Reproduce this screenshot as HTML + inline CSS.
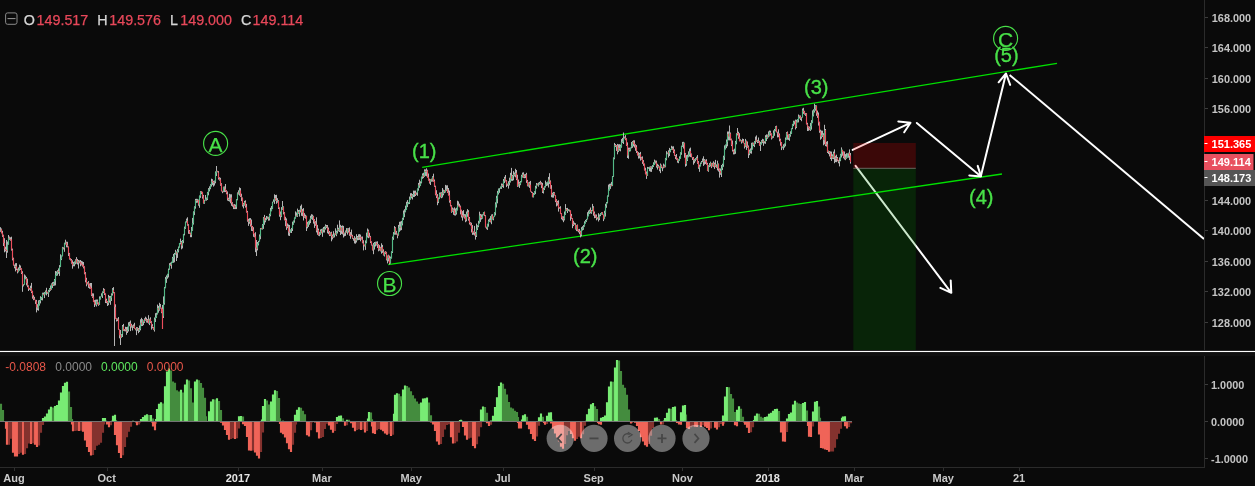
<!DOCTYPE html>
<html><head><meta charset="utf-8"><title>Chart</title>
<style>html,body{margin:0;padding:0;background:#0a0a0a;overflow:hidden}svg{display:block;will-change:transform}</style>
</head><body><svg width="1255" height="486" viewBox="0 0 1255 486" font-family="'Liberation Sans', Arial, sans-serif"><rect width="1255" height="486" fill="#0a0a0a"/><path d="M855.6 165.9L951.3 292.8M950.7 280.4L951.3 292.8L940.4 287.8" stroke="#fff" stroke-width="2" fill="none" stroke-linecap="round" stroke-linejoin="round"/><path d="M852.6 149.9L910.5 122.8M898.3 121.4L910.5 122.8L904.2 132.3" stroke="#fff" stroke-width="2" fill="none" stroke-linecap="round" stroke-linejoin="round"/><rect x="853.3" y="143" width="62.5" height="25.3" fill="rgba(255,0,0,0.2)"/><rect x="853.3" y="168.3" width="62.5" height="182" fill="rgba(0,140,0,0.2)"/><path d="M853.3 168.3H915.8" stroke="rgba(170,170,170,0.55)" stroke-width="1"/><path d="M422.2 167.3L1057 63.3" stroke="#00e000" stroke-width="1.3" fill="none"/><path d="M388.2 264.6L1002 174" stroke="#00e000" stroke-width="1.3" fill="none"/><path d="M0.5 227.2V231.8M1.5 228.5V233.3M2.5 230.8V236.9M3.5 234.7V246.0M4.5 238.2V252.3M5.5 246.7V251.4M6.5 249.7V252.0M7.5 241.5V252.7M8.5 235.0V244.6M9.5 236.6V239.8M10.5 237.3V240.7M11.5 236.7V250.6M12.5 248.6V260.4M13.5 257.7V265.5M14.5 264.6V268.3M15.5 263.2V271.4M16.5 263.1V270.1M17.5 268.7V273.4M18.5 267.4V272.3M19.5 264.6V270.7M20.5 265.5V269.9M21.5 268.3V274.0M22.5 271.2V291.8M23.5 284.1V286.4M24.5 274.4V284.7M25.5 275.5V279.3M26.5 276.9V285.4M27.5 278.7V287.2M28.5 285.4V291.0M29.5 287.9V289.8M30.5 285.7V290.8M31.5 282.9V293.1M32.5 290.8V298.7M33.5 295.2V300.2M34.5 296.8V299.8M35.5 299.8V303.9M36.5 299.9V312.4M37.5 304.2V310.2M38.5 300.3V310.7M39.5 300.1V305.6M40.5 296.2V303.4M41.5 297.0V300.1M42.5 292.7V300.4M43.5 292.6V295.2M44.5 292.1V298.1M45.5 290.5V294.4M46.5 287.8V295.4M47.5 291.8V293.8M48.5 289.9V297.0M49.5 288.0V292.2M50.5 285.5V290.8M51.5 283.4V289.6M52.5 282.2V288.0M53.5 281.8V286.0M54.5 279.0V285.7M55.5 271.0V285.4M56.5 271.4V275.9M57.5 270.2V275.6M58.5 268.4V273.8M59.5 265.1V275.9M60.5 254.3V267.1M61.5 255.5V260.1M62.5 246.9V256.4M63.5 247.3V249.4M64.5 242.7V251.8M65.5 239.7V244.5M66.5 241.7V247.3M67.5 241.8V247.4M68.5 246.5V256.0M69.5 252.9V259.6M70.5 258.2V260.5M71.5 259.0V263.7M72.5 260.3V268.7M73.5 261.9V266.3M74.5 261.4V266.3M75.5 259.3V264.3M76.5 257.1V263.6M77.5 258.9V264.5M78.5 260.0V268.5M79.5 260.4V263.3M80.5 260.0V266.3M81.5 260.9V265.3M82.5 261.4V266.6M83.5 262.0V268.4M84.5 266.3V274.3M85.5 272.1V282.3M86.5 277.8V286.3M87.5 282.2V284.4M88.5 281.1V287.9M89.5 283.5V288.7M90.5 283.0V288.7M91.5 283.0V296.1M92.5 293.3V297.9M93.5 293.4V302.1M94.5 300.1V307.0M95.5 299.7V305.3M96.5 299.5V306.5M97.5 299.5V304.4M98.5 302.5V305.8M99.5 296.4V304.9M100.5 296.5V299.6M101.5 293.3V296.4M102.5 291.4V298.0M103.5 288.1V293.1M104.5 288.9V295.0M105.5 293.5V303.0M106.5 298.7V303.2M107.5 301.0V306.0M108.5 294.9V305.2M109.5 295.9V302.6M110.5 296.0V304.8M111.5 293.3V301.0M112.5 288.1V295.6M113.5 287.1V293.3M114.5 292.2V306.7M115.5 304.3V318.7M116.5 317.9V321.5M117.5 318.5V321.1M118.5 317.1V329.6M119.5 329.4V338.3M120.5 333.8V339.1M121.5 334.0V337.7M122.5 325.0V337.0M123.5 323.9V331.0M124.5 329.0V331.2M125.5 326.8V331.4M126.5 327.0V334.8M127.5 326.7V333.0M128.5 322.3V331.5M129.5 321.8V326.3M130.5 320.5V331.1M131.5 323.8V327.6M132.5 325.4V330.5M133.5 324.4V327.9M134.5 322.8V328.6M135.5 328.4V330.3M136.5 327.1V335.1M137.5 327.2V330.8M138.5 328.1V333.2M139.5 325.5V331.9M140.5 319.3V330.3M141.5 317.8V326.1M142.5 319.2V326.0M143.5 320.6V325.2M144.5 318.3V322.9M145.5 316.7V320.7M146.5 317.7V322.5M147.5 319.1V322.8M148.5 315.2V323.6M149.5 318.7V325.1M150.5 317.3V323.1M151.5 321.2V329.6M152.5 324.1V328.3M153.5 327.0V330.1M154.5 317.5V331.6M155.5 313.2V322.0M156.5 312.8V317.9M157.5 304.6V314.5M158.5 305.9V312.7M159.5 302.8V310.7M160.5 304.0V308.6M161.5 307.8V313.2M162.5 312.1V318.5M163.5 296.4V318.0M164.5 286.9V304.7M165.5 276.9V288.3M166.5 275.4V282.9M167.5 273.8V278.7M168.5 268.6V277.4M169.5 263.2V269.7M170.5 262.6V265.7M171.5 261.7V268.7M172.5 256.9V262.9M173.5 253.9V262.8M174.5 253.0V262.3M175.5 249.8V254.6M176.5 251.5V261.0M177.5 249.0V257.9M178.5 246.5V252.4M179.5 243.0V247.5M180.5 238.6V244.3M181.5 240.9V249.3M182.5 240.0V248.4M183.5 233.9V243.2M184.5 226.6V235.4M185.5 221.6V228.9M186.5 218.6V222.6M187.5 217.3V225.7M188.5 224.2V233.8M189.5 230.0V233.9M190.5 232.6V237.2M191.5 227.0V237.2M192.5 217.9V230.8M193.5 211.3V224.6M194.5 206.3V215.1M195.5 198.9V208.7M196.5 198.8V202.9M197.5 198.9V202.7M198.5 199.6V205.7M199.5 195.5V207.8M200.5 191.1V197.9M201.5 191.2V194.1M202.5 191.8V198.6M203.5 194.9V203.6M204.5 199.9V203.8M205.5 195.0V200.6M206.5 197.5V200.7M207.5 191.9V200.0M208.5 188.1V195.3M209.5 186.3V191.4M210.5 184.2V189.2M211.5 178.7V186.6M212.5 179.2V185.1M213.5 180.8V186.6M214.5 180.5V185.5M215.5 171.4V183.3M216.5 169.7V175.2M217.5 170.8V172.3M218.5 171.1V179.6M219.5 177.2V180.6M220.5 177.8V185.8M221.5 183.2V191.4M222.5 190.8V193.2M223.5 186.7V192.2M224.5 186.4V192.1M225.5 184.0V192.0M226.5 190.2V194.3M227.5 191.4V200.6M228.5 197.7V201.1M229.5 193.8V201.6M230.5 194.3V203.3M231.5 194.3V205.8M232.5 202.2V206.6M233.5 204.5V209.1M234.5 204.1V209.1M235.5 204.6V209.1M236.5 199.1V209.1M237.5 192.4V200.3M238.5 190.3V194.6M239.5 187.4V195.6M240.5 188.1V196.9M241.5 193.7V201.1M242.5 197.5V206.5M243.5 202.9V208.4M244.5 200.9V205.7M245.5 200.3V207.6M246.5 203.9V212.6M247.5 210.9V221.7M248.5 218.8V225.9M249.5 218.2V223.8M250.5 218.1V226.5M251.5 219.5V230.9M252.5 226.0V231.1M253.5 227.2V236.8M254.5 233.5V237.3M255.5 232.2V252.2M256.5 247.5V249.3M257.5 242.0V250.4M258.5 240.9V245.4M259.5 234.4V241.4M260.5 228.0V239.2M261.5 227.9V229.4M262.5 224.0V229.5M263.5 217.0V228.9M264.5 214.9V224.8M265.5 217.8V222.3M266.5 216.0V220.2M267.5 216.5V218.8M268.5 216.8V220.7M269.5 213.7V220.5M270.5 207.8V216.3M271.5 206.0V211.3M272.5 201.7V209.1M273.5 199.4V202.2M274.5 194.3V203.9M275.5 195.0V200.7M276.5 194.8V203.8M277.5 198.2V202.7M278.5 200.2V209.0M279.5 207.4V216.7M280.5 211.5V220.2M281.5 207.1V217.1M282.5 201.0V209.8M283.5 206.3V214.4M284.5 212.1V220.3M285.5 216.8V226.2M286.5 218.4V229.9M287.5 223.4V228.2M288.5 224.5V235.6M289.5 227.3V235.4M290.5 229.4V232.7M291.5 227.9V233.0M292.5 221.7V231.0M293.5 220.5V224.7M294.5 217.4V222.7M295.5 211.4V218.5M296.5 212.5V216.6M297.5 208.6V216.9M298.5 210.0V213.8M299.5 209.8V216.6M300.5 205.8V212.4M301.5 204.5V215.8M302.5 208.9V216.2M303.5 208.1V220.5M304.5 213.1V217.8M305.5 214.7V218.7M306.5 215.7V227.4M307.5 221.9V228.3M308.5 221.0V226.9M309.5 219.8V224.7M310.5 215.7V223.1M311.5 214.2V219.2M312.5 214.6V219.9M313.5 215.8V223.6M314.5 219.1V227.9M315.5 221.2V225.8M316.5 217.3V232.4M317.5 224.9V234.8M318.5 228.6V235.7M319.5 231.9V236.2M320.5 229.4V234.8M321.5 228.9V233.3M322.5 228.6V236.8M323.5 227.0V232.5M324.5 226.5V232.5M325.5 224.4V229.6M326.5 225.0V228.1M327.5 225.0V233.3M328.5 227.5V234.2M329.5 231.0V236.1M330.5 232.3V235.9M331.5 231.7V241.3M332.5 234.5V239.4M333.5 231.2V237.7M334.5 233.6V237.4M335.5 228.3V235.2M336.5 230.7V236.2M337.5 224.7V233.5M338.5 227.8V231.3M339.5 220.4V232.0M340.5 224.8V235.0M341.5 225.9V233.9M342.5 225.4V234.4M343.5 225.9V237.5M344.5 232.6V236.3M345.5 230.5V235.9M346.5 228.1V232.6M347.5 228.3V234.6M348.5 228.2V232.6M349.5 227.4V235.8M350.5 232.1V238.8M351.5 229.6V236.4M352.5 234.8V238.8M353.5 238.0V240.7M354.5 236.1V243.4M355.5 237.7V243.7M356.5 234.2V242.5M357.5 236.0V240.3M358.5 234.3V240.1M359.5 234.1V239.9M360.5 234.6V241.3M361.5 236.7V239.5M362.5 236.5V243.3M363.5 240.2V250.4M364.5 244.5V246.4M365.5 240.4V249.9M366.5 232.6V243.3M367.5 228.5V237.5M368.5 229.6V238.2M369.5 232.8V237.4M370.5 235.9V243.1M371.5 241.4V245.5M372.5 244.7V250.4M373.5 242.9V254.2M374.5 242.0V249.6M375.5 241.7V246.5M376.5 241.6V245.5M377.5 241.3V248.0M378.5 244.1V251.3M379.5 245.1V250.6M380.5 246.8V251.4M381.5 243.3V253.7M382.5 244.9V252.9M383.5 249.3V255.5M384.5 251.8V256.5M385.5 251.1V254.1M386.5 251.8V260.4M387.5 255.6V263.4M388.5 254.7V261.4M389.5 255.6V264.5M390.5 256.6V263.6M391.5 251.3V258.4M392.5 236.6V253.0M393.5 232.1V239.9M394.5 226.1V234.7M395.5 227.2V234.7M396.5 230.9V234.7M397.5 233.6V238.3M398.5 224.9V235.6M399.5 221.8V231.8M400.5 221.5V230.6M401.5 220.9V230.1M402.5 217.8V225.4M403.5 210.5V219.9M404.5 209.2V217.1M405.5 205.7V212.3M406.5 201.8V209.9M407.5 200.1V207.1M408.5 202.2V204.2M409.5 196.6V204.0M410.5 193.2V199.7M411.5 193.2V198.3M412.5 194.1V199.5M413.5 190.6V197.0M414.5 190.7V196.9M415.5 190.6V196.0M416.5 192.5V194.8M417.5 188.4V195.8M418.5 182.9V190.7M419.5 179.7V187.8M420.5 181.3V186.1M421.5 176.6V183.4M422.5 173.4V178.8M423.5 172.8V178.1M424.5 169.3V176.9M425.5 169.4V175.9M426.5 168.3V176.3M427.5 169.8V177.6M428.5 173.5V180.6M429.5 178.7V183.6M430.5 179.1V185.0M431.5 178.6V181.7M432.5 176.2V181.6M433.5 173.7V181.7M434.5 179.5V186.8M435.5 185.7V195.3M436.5 190.2V198.1M437.5 194.1V205.2M438.5 197.5V203.1M439.5 192.6V199.1M440.5 192.4V197.4M441.5 192.2V198.2M442.5 188.0V197.5M443.5 189.7V195.3M444.5 190.1V193.2M445.5 184.9V192.4M446.5 185.4V190.9M447.5 185.3V193.0M448.5 188.0V195.4M449.5 190.6V202.7M450.5 200.0V206.4M451.5 205.3V212.8M452.5 207.5V212.1M453.5 208.4V214.8M454.5 207.3V215.4M455.5 208.5V215.6M456.5 207.7V214.6M457.5 200.7V210.5M458.5 201.4V206.4M459.5 203.7V207.3M460.5 205.6V214.4M461.5 209.7V217.5M462.5 211.1V220.6M463.5 210.1V217.4M464.5 214.1V218.6M465.5 214.2V222.2M466.5 211.5V221.3M467.5 209.1V216.8M468.5 210.2V220.7M469.5 217.0V224.5M470.5 222.2V225.5M471.5 222.7V232.4M472.5 225.1V234.9M473.5 231.5V234.7M474.5 225.9V235.5M475.5 231.9V239.6M476.5 223.6V237.0M477.5 225.2V230.0M478.5 220.8V227.2M479.5 211.7V223.5M480.5 213.9V221.9M481.5 214.4V219.5M482.5 214.3V218.6M483.5 212.1V215.3M484.5 211.6V216.1M485.5 215.2V227.5M486.5 226.7V229.2M487.5 223.7V229.9M488.5 219.5V226.7M489.5 218.4V221.9M490.5 216.1V222.4M491.5 214.5V224.2M492.5 214.2V219.6M493.5 216.5V220.3M494.5 212.2V217.1M495.5 202.3V215.4M496.5 195.8V207.5M497.5 190.9V203.3M498.5 188.5V194.5M499.5 188.0V192.8M500.5 186.5V188.8M501.5 183.5V188.9M502.5 183.7V187.1M503.5 179.0V187.9M504.5 176.8V183.0M505.5 175.0V181.4M506.5 180.2V187.1M507.5 183.6V185.8M508.5 181.2V188.6M509.5 177.7V185.4M510.5 172.8V182.5M511.5 167.9V180.8M512.5 175.0V180.9M513.5 171.1V180.3M514.5 172.5V176.4M515.5 168.8V177.3M516.5 170.0V180.1M517.5 174.8V186.9M518.5 179.6V186.5M519.5 181.8V187.9M520.5 181.0V185.2M521.5 174.8V182.2M522.5 172.6V177.6M523.5 172.3V177.9M524.5 174.3V178.2M525.5 173.9V178.1M526.5 172.8V182.9M527.5 179.9V186.3M528.5 182.4V186.6M529.5 181.8V187.9M530.5 180.9V191.6M531.5 191.5V193.0M532.5 192.2V197.3M533.5 193.0V197.4M534.5 191.2V195.0M535.5 185.8V194.1M536.5 183.0V188.6M537.5 183.5V185.3M538.5 182.6V186.6M539.5 181.9V184.7M540.5 180.8V184.6M541.5 182.2V188.1M542.5 182.9V193.0M543.5 187.7V193.5M544.5 186.3V190.0M545.5 180.6V187.5M546.5 182.3V186.0M547.5 181.6V185.6M548.5 176.9V187.5M549.5 173.2V184.1M550.5 180.4V188.6M551.5 185.1V197.2M552.5 192.7V197.6M553.5 191.9V197.7M554.5 192.2V195.6M555.5 195.3V202.1M556.5 199.2V206.4M557.5 200.9V205.6M558.5 200.3V211.6M559.5 207.1V208.7M560.5 206.2V214.1M561.5 213.2V219.3M562.5 216.3V220.4M563.5 216.3V222.2M564.5 211.5V220.4M565.5 204.1V214.8M566.5 208.1V211.1M567.5 207.9V213.0M568.5 209.2V211.1M569.5 209.7V211.6M570.5 210.5V220.7M571.5 213.9V218.8M572.5 218.0V228.2M573.5 220.8V226.1M574.5 222.6V225.0M575.5 223.2V229.5M576.5 225.3V231.1M577.5 224.5V231.3M578.5 229.3V232.4M579.5 228.9V234.2M580.5 230.7V237.4M581.5 227.2V236.3M582.5 226.2V230.5M583.5 225.0V229.8M584.5 221.3V226.7M585.5 219.9V223.6M586.5 218.9V221.9M587.5 212.2V219.4M588.5 210.5V216.4M589.5 209.6V213.9M590.5 207.5V213.4M591.5 210.1V213.8M592.5 203.9V211.2M593.5 206.2V215.7M594.5 211.5V218.2M595.5 214.5V217.9M596.5 214.5V220.3M597.5 217.4V219.3M598.5 213.2V221.5M599.5 214.5V220.1M600.5 213.1V216.2M601.5 212.2V214.5M602.5 212.3V214.8M603.5 214.6V221.1M604.5 210.8V219.2M605.5 203.8V216.6M606.5 202.0V207.8M607.5 195.5V203.4M608.5 184.6V196.7M609.5 183.8V190.6M610.5 183.6V188.9M611.5 181.9V186.3M612.5 176.0V186.1M613.5 157.4V176.9M614.5 142.9V159.3M615.5 144.1V147.0M616.5 145.1V150.9M617.5 143.9V154.3M618.5 144.3V152.1M619.5 144.2V150.7M620.5 144.6V151.3M621.5 139.1V147.7M622.5 137.9V142.9M623.5 137.3V144.0M624.5 136.6V138.5M625.5 135.1V140.2M626.5 138.3V146.0M627.5 142.4V158.0M628.5 147.7V158.8M629.5 147.7V151.6M630.5 147.6V151.3M631.5 142.0V148.4M632.5 141.1V147.8M633.5 140.3V146.4M634.5 140.3V147.6M635.5 144.3V150.8M636.5 145.2V153.0M637.5 151.1V155.4M638.5 152.1V158.6M639.5 152.9V158.4M640.5 151.9V160.6M641.5 156.8V159.7M642.5 156.4V163.9M643.5 160.1V165.8M644.5 163.6V170.5M645.5 167.7V174.4M646.5 171.5V178.9M647.5 166.9V176.0M648.5 167.2V168.7M649.5 166.7V171.2M650.5 166.3V171.7M651.5 166.3V171.9M652.5 165.1V169.1M653.5 162.3V167.0M654.5 159.6V165.0M655.5 160.5V163.5M656.5 160.6V167.6M657.5 163.8V169.6M658.5 164.8V167.6M659.5 166.4V171.2M660.5 163.5V173.1M661.5 164.7V168.2M662.5 166.8V171.2M663.5 163.6V168.3M664.5 164.6V167.4M665.5 157.9V167.3M666.5 151.1V160.3M667.5 152.6V154.2M668.5 150.3V157.5M669.5 147.9V156.0M670.5 149.1V152.3M671.5 145.8V149.9M672.5 146.5V149.9M673.5 146.3V153.1M674.5 149.4V155.8M675.5 155.1V159.1M676.5 154.0V159.8M677.5 158.4V162.7M678.5 159.3V163.2M679.5 156.3V160.7M680.5 152.3V158.7M681.5 145.7V154.8M682.5 141.9V146.9M683.5 141.8V148.5M684.5 142.6V157.7M685.5 152.9V166.7M686.5 155.1V165.8M687.5 154.7V161.0M688.5 151.3V157.3M689.5 148.6V156.5M690.5 147.6V157.1M691.5 153.5V157.3M692.5 157.0V160.0M693.5 157.0V164.7M694.5 158.9V163.2M695.5 158.1V161.4M696.5 156.7V159.7M697.5 155.1V163.8M698.5 161.1V168.8M699.5 164.7V171.8M700.5 162.6V166.4M701.5 161.0V163.7M702.5 158.5V162.1M703.5 156.3V165.9M704.5 159.1V164.7M705.5 159.7V164.0M706.5 159.2V164.6M707.5 162.8V171.1M708.5 165.3V171.8M709.5 163.1V167.1M710.5 161.7V166.4M711.5 162.9V168.1M712.5 162.8V166.4M713.5 161.3V167.1M714.5 162.6V168.9M715.5 159.9V167.1M716.5 164.4V167.9M717.5 160.7V170.4M718.5 163.6V171.6M719.5 168.4V177.6M720.5 168.5V174.8M721.5 165.8V175.1M722.5 163.7V170.1M723.5 155.7V166.8M724.5 145.4V160.0M725.5 144.5V149.5M726.5 139.5V148.1M727.5 131.5V146.3M728.5 131.5V140.3M729.5 125.5V140.4M730.5 132.5V140.4M731.5 138.6V146.1M732.5 140.5V151.5M733.5 149.7V154.4M734.5 148.7V154.3M735.5 140.9V153.8M736.5 133.3V144.3M737.5 133.0V135.4M738.5 131.7V138.8M739.5 133.2V141.4M740.5 139.3V141.3M741.5 140.0V143.6M742.5 138.6V142.5M743.5 139.0V143.3M744.5 142.9V148.5M745.5 138.9V147.1M746.5 140.6V149.9M747.5 141.5V147.8M748.5 145.5V158.0M749.5 149.6V155.2M750.5 148.4V153.3M751.5 142.8V153.7M752.5 142.5V149.6M753.5 142.7V146.1M754.5 141.1V147.1M755.5 136.6V143.9M756.5 135.4V141.9M757.5 139.9V143.1M758.5 137.5V142.9M759.5 140.8V145.7M760.5 142.0V151.0M761.5 140.2V144.4M762.5 138.8V143.1M763.5 139.3V145.8M764.5 141.1V143.5M765.5 135.2V143.8M766.5 134.4V141.0M767.5 134.6V138.8M768.5 131.4V137.4M769.5 130.5V136.4M770.5 130.7V135.5M771.5 133.4V139.5M772.5 136.3V138.4M773.5 130.4V137.8M774.5 129.0V135.8M775.5 126.2V131.3M776.5 125.7V132.4M777.5 131.7V137.4M778.5 129.3V137.2M779.5 133.5V141.3M780.5 138.7V145.7M781.5 142.0V150.1M782.5 146.5V148.2M783.5 144.3V149.9M784.5 143.5V147.6M785.5 137.5V146.3M786.5 132.1V139.7M787.5 131.5V139.7M788.5 134.4V139.9M789.5 134.0V140.8M790.5 131.3V136.7M791.5 128.3V133.9M792.5 123.9V129.2M793.5 120.7V126.1M794.5 120.8V124.5M795.5 119.6V129.5M796.5 119.8V128.1M797.5 119.1V122.5M798.5 114.5V122.4M799.5 115.4V118.5M800.5 115.5V120.0M801.5 117.2V121.2M802.5 108.5V117.6M803.5 107.8V113.9M804.5 110.8V114.7M805.5 113.0V115.9M806.5 113.1V124.5M807.5 122.8V131.0M808.5 126.3V130.8M809.5 126.6V130.2M810.5 122.9V130.9M811.5 120.1V129.6M812.5 110.4V123.2M813.5 109.3V116.4M814.5 108.0V112.6M815.5 105.1V110.7M816.5 105.4V115.8M817.5 110.6V117.9M818.5 112.5V125.6M819.5 121.7V132.8M820.5 129.7V139.7M821.5 130.6V138.7M822.5 130.7V137.0M823.5 133.2V145.3M824.5 125.9V144.3M825.5 129.0V146.1M826.5 141.7V146.6M827.5 141.1V153.0M828.5 150.6V154.1M829.5 151.0V156.4M830.5 151.4V159.1M831.5 151.6V160.9M832.5 154.3V158.9M833.5 151.6V159.1M834.5 149.4V163.2M835.5 155.7V162.1M836.5 154.7V162.2M837.5 157.0V161.3M838.5 159.9V163.3M839.5 157.4V166.4M840.5 153.8V161.2M841.5 147.4V157.5M842.5 149.7V155.7M843.5 151.5V158.3M844.5 151.5V159.5M845.5 154.1V160.2M846.5 153.2V159.0M847.5 153.4V157.7M848.5 152.7V157.7M849.5 149.4V160.1M850.5 153.0V163.6M114.5 296.0V346.0M120.5 330.0V345.0M162.5 305.0V329.0M216.5 166.0V176.0M256.5 240.0V256.0M623.5 132.5V140.0M814.5 103.8V110.0M824.5 124.8V140.0M6.5 240.0V258.0M289.5 225.0V236.0M721.5 165.0V177.0M306.5 222.0V231.0M737.5 128.0V135.0" stroke="#b4b4b4" stroke-width="1" fill="none"/><path d="M0.5 229.7V230.6M7.5 244.4V250.7M8.5 237.7V244.5M15.5 266.0V266.9M18.5 269.8V272.0M19.5 268.1V269.4M23.5 284.2V285.5M24.5 278.5V284.4M25.5 277.4V278.3M30.5 288.0V288.9M38.5 303.9V308.4M39.5 301.1V304.4M40.5 298.2V301.1M41.5 297.6V298.5M42.5 293.5V297.9M44.5 293.4V294.8M45.5 291.4V293.9M48.5 290.7V293.5M49.5 288.5V290.3M51.5 284.0V289.5M53.5 282.9V285.5M54.5 280.1V282.4M55.5 275.1V280.4M56.5 272.9V275.6M57.5 271.5V273.2M59.5 267.2V271.9M60.5 258.8V266.8M61.5 255.7V258.9M62.5 247.5V255.9M64.5 243.3V248.1M65.5 242.5V243.4M73.5 263.9V264.8M74.5 262.6V264.3M75.5 260.0V262.5M77.5 260.8V262.6M79.5 261.6V262.5M87.5 282.6V283.8M96.5 301.2V304.9M99.5 298.5V304.9M100.5 296.7V299.1M101.5 295.5V296.4M102.5 292.2V295.5M103.5 290.0V291.9M108.5 297.3V303.3M110.5 297.4V300.9M111.5 294.7V297.9M112.5 289.5V294.1M117.5 318.7V319.6M121.5 334.3V337.5M122.5 326.6V334.0M124.5 329.4V330.3M127.5 329.8V331.1M128.5 324.8V329.7M129.5 323.5V324.3M131.5 325.6V326.5M133.5 325.9V326.8M136.5 328.2V330.1M139.5 328.9V330.9M140.5 322.8V329.1M142.5 320.2V324.5M144.5 319.4V322.1M147.5 319.9V320.8M149.5 319.2V323.4M154.5 319.5V330.0M155.5 317.1V318.9M156.5 314.4V317.6M157.5 307.9V314.0M159.5 306.5V309.8M163.5 303.6V316.3M164.5 287.8V303.3M165.5 279.1V287.9M166.5 277.0V278.6M167.5 274.1V276.4M168.5 269.7V274.1M169.5 265.0V269.6M171.5 262.4V265.1M172.5 258.3V262.9M173.5 256.6V258.2M174.5 254.3V256.5M175.5 251.8V253.8M177.5 251.1V253.2M178.5 247.6V250.5M179.5 243.1V247.4M180.5 242.0V242.9M182.5 240.9V245.8M183.5 234.1V240.7M184.5 228.2V233.8M185.5 221.8V228.2M186.5 220.2V221.3M191.5 230.5V235.1M192.5 223.0V230.5M193.5 212.3V223.2M194.5 207.0V212.2M195.5 200.1V206.8M197.5 199.5V200.4M199.5 195.8V205.1M200.5 191.5V196.1M204.5 200.5V202.9M205.5 199.0V199.9M206.5 198.6V199.5M207.5 192.6V198.8M208.5 189.4V192.6M209.5 188.7V189.6M210.5 185.0V188.3M211.5 181.3V184.7M214.5 181.5V182.4M215.5 172.6V181.5M216.5 170.8V173.2M223.5 187.1V191.4M229.5 198.8V200.2M230.5 197.8V198.6M235.5 206.4V207.3M236.5 199.6V206.7M237.5 193.3V199.5M239.5 190.5V193.8M243.5 204.3V205.2M244.5 202.2V204.7M249.5 220.2V222.0M257.5 243.7V248.8M258.5 241.9V244.2M259.5 236.5V241.4M260.5 228.5V236.3M262.5 224.8V229.3M263.5 217.5V225.0M265.5 219.9V220.7M266.5 218.6V219.5M267.5 217.4V218.3M269.5 215.1V218.7M270.5 210.6V215.1M271.5 208.7V210.9M272.5 202.5V208.7M273.5 201.2V202.1M274.5 198.2V200.7M277.5 200.5V201.4M281.5 209.5V216.6M282.5 206.4V208.9M287.5 226.1V227.0M290.5 229.9V232.3M291.5 229.4V230.3M292.5 224.7V228.9M293.5 220.9V224.5M294.5 217.9V220.6M295.5 215.7V218.4M297.5 211.3V216.0M299.5 210.7V213.0M300.5 208.6V210.5M302.5 211.1V212.9M305.5 216.5V217.4M307.5 224.0V226.8M308.5 221.2V224.5M309.5 219.8V221.5M310.5 218.1V219.6M311.5 217.5V218.4M312.5 216.2V217.2M317.5 229.7V230.6M319.5 233.7V234.6M320.5 230.9V234.1M322.5 228.8V232.5M324.5 228.3V230.2M325.5 226.0V227.9M330.5 233.2V235.3M333.5 235.1V237.3M334.5 233.7V234.9M336.5 231.8V234.9M337.5 229.0V231.3M339.5 227.4V230.7M341.5 227.0V231.0M344.5 233.0V233.8M345.5 231.4V232.7M347.5 229.1V232.2M354.5 238.4V239.3M356.5 238.4V240.8M357.5 237.2V238.1M359.5 237.0V237.8M365.5 242.7V246.2M366.5 236.3V242.6M367.5 230.9V236.2M373.5 244.7V249.6M374.5 243.2V244.9M375.5 242.4V243.3M377.5 244.1V245.0M379.5 247.9V249.3M381.5 247.7V251.5M384.5 252.1V255.3M387.5 255.7V259.8M390.5 258.1V262.9M391.5 251.7V258.4M392.5 238.3V252.1M393.5 233.7V237.9M394.5 228.2V233.6M398.5 228.3V235.0M399.5 226.6V228.1M401.5 223.6V227.5M402.5 218.6V223.6M403.5 213.7V218.2M404.5 212.2V213.5M405.5 209.5V211.7M406.5 204.5V209.9M407.5 203.0V204.5M408.5 202.4V203.5M409.5 199.2V202.7M410.5 195.9V199.0M412.5 195.2V197.1M413.5 193.9V194.9M414.5 193.2V194.0M416.5 193.4V194.6M417.5 189.0V192.8M418.5 184.8V188.7M420.5 182.9V185.7M421.5 177.0V182.6M422.5 175.1V177.1M424.5 170.9V176.5M426.5 170.8V171.7M430.5 179.1V182.1M432.5 177.0V180.2M438.5 198.5V201.8M439.5 193.8V198.7M441.5 192.8V197.1M443.5 190.4V194.0M445.5 189.9V192.3M446.5 188.7V189.6M452.5 209.3V212.1M455.5 212.3V214.2M456.5 209.4V212.7M457.5 205.1V209.9M463.5 215.8V216.7M466.5 213.9V219.6M467.5 212.6V214.1M473.5 231.8V232.7M476.5 228.6V235.7M477.5 226.6V228.5M478.5 223.2V226.1M479.5 215.4V222.7M482.5 215.3V218.4M483.5 212.1V214.7M487.5 224.1V228.3M488.5 221.1V224.1M489.5 220.4V221.3M491.5 215.5V221.6M493.5 217.3V218.8M494.5 212.7V216.9M495.5 204.2V212.8M496.5 198.1V204.6M497.5 193.1V198.7M498.5 189.5V193.3M499.5 188.3V189.2M500.5 187.4V188.3M501.5 185.2V187.4M503.5 181.0V185.2M504.5 178.4V180.8M508.5 183.6V185.1M509.5 182.0V183.2M510.5 175.2V181.5M512.5 175.9V178.9M513.5 174.2V176.0M515.5 172.9V175.2M518.5 183.7V186.0M520.5 182.1V184.6M521.5 176.2V182.2M522.5 174.3V176.4M524.5 176.2V177.1M525.5 174.7V175.6M528.5 183.1V186.0M533.5 194.5V197.2M534.5 191.9V194.8M535.5 187.4V191.6M536.5 184.6V186.8M538.5 184.5V185.4M539.5 183.1V184.0M543.5 189.1V191.5M544.5 186.8V188.5M545.5 184.3V186.4M546.5 183.4V184.3M547.5 182.3V183.2M548.5 179.3V182.8M552.5 194.3V195.2M553.5 193.2V194.1M564.5 214.2V219.4M565.5 209.0V214.2M567.5 210.0V210.9M568.5 209.4V210.6M574.5 224.1V225.0M576.5 225.5V229.4M581.5 228.9V234.7M582.5 228.2V229.1M583.5 226.4V228.6M584.5 223.0V226.0M585.5 220.9V223.2M586.5 219.8V220.9M587.5 215.8V219.2M588.5 213.3V216.1M589.5 210.9V213.3M591.5 211.0V212.4M592.5 207.6V210.6M597.5 217.5V218.7M599.5 215.5V218.5M600.5 213.6V215.0M601.5 212.7V214.2M604.5 213.1V219.0M605.5 205.9V213.0M606.5 202.7V205.5M607.5 195.8V202.5M608.5 189.3V195.8M609.5 186.7V189.9M610.5 184.9V186.2M612.5 176.4V185.7M613.5 158.3V176.6M614.5 144.9V158.2M616.5 145.9V146.8M618.5 147.6V151.3M620.5 146.3V149.3M621.5 142.0V146.7M622.5 141.2V142.1M623.5 138.2V141.7M624.5 137.2V138.1M628.5 149.8V155.5M630.5 147.7V150.7M631.5 145.8V147.2M632.5 141.9V146.3M639.5 154.2V155.4M647.5 168.6V176.0M648.5 167.8V168.7M649.5 167.2V168.1M651.5 167.5V168.4M652.5 166.4V167.5M653.5 164.1V166.3M654.5 161.7V164.7M657.5 166.0V166.9M660.5 164.8V169.9M663.5 165.9V167.6M665.5 158.4V166.8M666.5 154.2V158.7M667.5 152.8V153.9M669.5 150.9V153.5M670.5 149.4V151.4M671.5 148.0V149.7M678.5 159.6V161.4M679.5 158.0V160.2M680.5 152.5V158.5M681.5 146.0V152.7M682.5 144.8V145.7M683.5 142.8V144.8M686.5 159.2V164.3M687.5 156.5V159.7M688.5 154.4V156.8M689.5 151.4V154.8M694.5 159.5V160.8M695.5 158.9V159.8M696.5 157.8V158.9M699.5 166.5V167.8M700.5 163.7V166.3M701.5 162.1V163.1M702.5 160.7V161.6M704.5 160.0V161.4M708.5 165.8V170.7M709.5 164.7V165.8M710.5 162.6V165.2M712.5 163.4V166.1M714.5 164.1V166.6M717.5 163.6V167.7M721.5 168.1V173.5M722.5 164.9V168.0M723.5 157.2V164.8M724.5 148.4V157.2M725.5 144.9V148.8M726.5 141.7V144.7M727.5 134.1V142.1M729.5 133.2V136.7M734.5 151.6V152.5M735.5 142.3V151.5M736.5 133.6V142.5M740.5 140.0V140.9M742.5 141.2V142.1M745.5 141.2V146.7M749.5 151.4V153.8M750.5 150.6V151.5M751.5 149.4V150.9M752.5 143.4V148.9M754.5 141.7V145.2M755.5 140.2V141.6M757.5 140.5V141.8M760.5 144.3V145.1M761.5 141.1V144.3M763.5 140.8V141.7M765.5 137.0V142.1M767.5 135.3V138.6M769.5 131.9V135.9M772.5 136.8V137.7M773.5 132.9V136.5M774.5 130.6V132.9M775.5 126.9V130.2M782.5 147.0V147.9M783.5 146.2V147.1M784.5 144.3V145.8M785.5 139.4V143.7M786.5 133.0V139.6M789.5 134.8V138.4M790.5 133.7V135.1M791.5 128.4V133.8M792.5 124.3V128.0M793.5 121.7V124.3M794.5 121.2V122.1M796.5 121.8V127.0M797.5 119.6V121.7M798.5 116.5V119.9M801.5 117.3V118.4M802.5 110.2V117.0M805.5 113.6V114.5M810.5 125.9V130.1M811.5 122.3V126.2M812.5 115.6V122.8M813.5 110.7V115.5M814.5 109.1V110.9M815.5 105.5V108.8M821.5 135.0V136.9M822.5 134.5V135.4M824.5 130.2V140.5M826.5 143.7V144.6M828.5 150.9V152.1M831.5 155.9V157.6M833.5 153.5V158.0M836.5 158.0V158.9M839.5 161.0V161.9M840.5 154.4V160.4M841.5 149.4V154.5M846.5 156.6V158.9M847.5 154.3V157.0M848.5 153.1V154.0" stroke="#53b987" stroke-width="1.15" fill="none"/><path d="M1.5 229.2V233.3M2.5 232.8V235.6M3.5 235.2V242.9M4.5 243.0V248.7M5.5 249.1V250.0M6.5 250.1V251.0M9.5 237.6V238.5M10.5 238.9V239.8M11.5 239.6V249.6M12.5 249.7V258.7M13.5 258.6V265.3M14.5 265.7V266.6M16.5 266.2V268.9M17.5 269.5V271.8M20.5 267.8V268.7M21.5 268.5V272.9M22.5 272.9V285.6M26.5 277.9V283.0M27.5 283.2V285.6M28.5 286.1V288.9M29.5 288.4V289.3M31.5 288.1V291.9M32.5 291.3V296.6M33.5 297.2V298.7M34.5 298.7V299.6M35.5 299.9V301.4M36.5 301.4V307.2M37.5 307.4V308.3M43.5 294.1V295.0M46.5 291.2V292.1M47.5 292.1V293.0M50.5 289.0V289.9M52.5 283.9V285.5M58.5 271.0V271.9M63.5 247.5V248.4M66.5 242.5V245.0M67.5 245.0V246.2M68.5 246.7V253.2M69.5 253.6V258.8M70.5 258.3V259.7M71.5 260.0V262.9M72.5 263.1V265.2M76.5 259.4V262.8M78.5 261.4V262.8M80.5 262.0V263.6M81.5 263.5V264.7M82.5 264.5V265.4M83.5 264.9V267.3M84.5 266.8V273.6M85.5 273.6V280.0M86.5 279.7V284.3M88.5 282.4V284.4M89.5 284.4V286.9M90.5 286.6V288.4M91.5 288.0V295.3M92.5 295.7V296.9M93.5 296.7V302.0M94.5 301.8V304.0M95.5 303.9V304.8M97.5 301.4V302.6M98.5 302.7V305.1M104.5 289.4V293.5M105.5 293.6V299.8M106.5 300.3V301.9M107.5 301.5V302.9M109.5 297.7V300.5M113.5 289.9V292.2M114.5 292.4V306.7M115.5 307.0V318.6M116.5 318.1V319.9M118.5 319.3V329.5M119.5 329.7V335.3M120.5 334.8V337.8M123.5 326.4V330.7M125.5 329.1V330.2M126.5 330.7V331.6M130.5 323.4V326.6M132.5 325.4V326.3M134.5 325.8V328.6M135.5 328.5V329.7M137.5 327.9V328.8M138.5 329.3V330.3M141.5 322.6V324.5M143.5 320.8V322.0M145.5 319.0V319.9M146.5 320.2V321.2M148.5 319.6V323.1M150.5 319.2V322.2M151.5 322.2V325.5M152.5 326.0V326.9M153.5 327.3V329.8M158.5 308.2V309.7M160.5 307.0V307.9M161.5 307.8V312.2M162.5 312.7V316.9M170.5 264.5V265.4M176.5 252.3V253.4M181.5 242.3V245.6M187.5 220.8V224.7M188.5 225.2V230.4M189.5 230.8V233.6M190.5 233.2V234.8M196.5 200.0V200.9M198.5 200.1V204.6M201.5 191.2V192.4M202.5 192.0V196.8M203.5 196.4V202.9M212.5 180.7V182.1M213.5 181.9V182.9M217.5 171.1V172.0M218.5 172.4V177.9M219.5 178.4V180.1M220.5 179.6V184.8M221.5 184.3V191.1M222.5 190.9V191.8M224.5 187.4V188.3M225.5 188.7V190.7M226.5 190.8V193.6M227.5 193.9V198.6M228.5 198.8V200.1M231.5 197.4V203.0M232.5 203.2V204.7M233.5 205.1V206.0M234.5 205.7V207.7M238.5 192.8V193.6M240.5 190.5V196.0M241.5 196.5V197.8M242.5 198.1V205.2M245.5 202.3V206.2M246.5 206.8V212.3M247.5 212.0V220.6M248.5 220.8V221.7M250.5 220.0V224.5M251.5 224.9V226.7M252.5 226.6V229.5M253.5 229.5V233.9M254.5 233.5V236.6M255.5 236.3V247.4M256.5 247.5V249.2M261.5 228.1V229.0M264.5 216.9V220.6M268.5 217.6V218.5M275.5 197.9V199.7M276.5 199.9V200.9M278.5 201.0V207.7M279.5 208.2V214.7M280.5 214.5V216.2M283.5 206.9V212.3M284.5 212.4V219.8M285.5 220.0V221.0M286.5 220.5V227.5M288.5 226.5V231.4M289.5 231.8V232.7M296.5 215.2V216.1M298.5 211.7V213.0M301.5 209.2V212.8M303.5 210.8V216.0M304.5 216.0V217.6M306.5 216.0V227.1M313.5 216.2V220.0M314.5 220.1V222.1M315.5 222.2V224.5M316.5 224.2V230.4M318.5 229.9V235.1M321.5 230.6V233.1M323.5 228.9V229.8M326.5 226.3V227.1M327.5 227.4V229.8M328.5 229.2V232.1M329.5 232.5V234.9M331.5 232.8V236.1M332.5 235.9V237.4M335.5 233.3V234.8M338.5 229.3V230.2M340.5 227.4V230.6M342.5 227.4V231.8M343.5 232.2V233.7M346.5 231.6V232.5M348.5 229.3V230.8M349.5 231.2V234.4M350.5 234.7V235.6M351.5 235.0V236.0M352.5 235.7V238.0M353.5 238.4V239.3M355.5 238.8V240.5M358.5 237.2V238.2M360.5 236.8V237.7M361.5 237.6V239.3M362.5 239.5V242.7M363.5 243.3V245.0M364.5 245.0V246.1M368.5 230.7V236.3M369.5 236.0V236.9M370.5 236.7V241.4M371.5 241.5V244.9M372.5 245.3V250.2M376.5 242.7V244.7M378.5 244.2V249.5M380.5 247.4V251.1M382.5 247.1V251.0M383.5 251.5V255.1M385.5 251.5V253.1M386.5 252.6V259.5M388.5 255.2V258.0M389.5 258.3V262.9M395.5 227.8V232.7M396.5 232.8V233.6M397.5 234.2V235.5M400.5 226.7V227.6M411.5 195.3V196.7M415.5 192.8V194.8M419.5 184.5V185.4M423.5 175.6V176.9M425.5 171.1V172.0M427.5 170.3V177.4M428.5 177.1V180.3M429.5 180.2V182.4M431.5 179.3V180.2M433.5 177.2V181.5M434.5 180.9V186.2M435.5 186.6V194.5M436.5 194.1V196.3M437.5 196.3V201.7M440.5 193.5V196.7M442.5 192.6V193.5M444.5 190.2V191.8M447.5 189.3V192.6M448.5 192.2V195.4M449.5 195.0V200.8M450.5 200.9V205.4M451.5 205.6V212.0M453.5 209.4V210.9M454.5 210.6V213.9M458.5 204.8V205.7M459.5 206.1V207.0M460.5 206.5V210.5M461.5 210.2V215.4M462.5 214.9V216.7M464.5 215.4V217.6M465.5 217.0V220.2M468.5 212.1V218.9M469.5 218.6V222.9M470.5 223.0V224.5M471.5 224.8V228.9M472.5 228.8V232.9M474.5 231.6V233.1M475.5 233.6V235.6M480.5 215.6V217.7M481.5 217.1V218.0M484.5 212.0V215.4M485.5 215.9V227.0M486.5 227.5V228.4M490.5 220.1V221.8M492.5 215.4V219.0M502.5 184.8V185.7M505.5 178.6V181.2M506.5 181.1V184.5M507.5 184.4V185.3M511.5 175.5V178.9M514.5 174.3V175.2M516.5 172.8V179.0M517.5 178.8V186.2M519.5 183.3V184.2M523.5 174.4V177.3M526.5 174.4V180.7M527.5 180.8V185.7M529.5 183.2V185.2M530.5 184.7V191.3M531.5 191.6V192.5M532.5 192.9V197.0M537.5 184.3V185.2M540.5 182.5V183.4M541.5 183.8V185.4M542.5 185.3V191.6M549.5 179.4V181.7M550.5 181.6V188.5M551.5 188.7V194.9M554.5 192.9V195.1M555.5 195.4V200.7M556.5 200.2V202.4M557.5 202.3V203.5M558.5 203.7V207.7M559.5 207.5V208.4M560.5 208.4V214.1M561.5 213.6V217.6M562.5 217.3V218.4M563.5 218.3V219.2M566.5 209.1V210.7M569.5 209.7V210.6M570.5 210.5V216.6M571.5 216.1V218.1M572.5 218.3V224.1M573.5 224.0V224.9M575.5 224.4V229.0M577.5 225.1V230.5M578.5 230.1V231.0M579.5 231.0V231.9M580.5 231.4V234.6M590.5 210.3V211.9M593.5 207.4V212.8M594.5 213.3V214.9M595.5 215.2V216.6M596.5 216.4V218.3M598.5 217.6V218.5M602.5 212.3V214.7M603.5 215.1V218.8M611.5 185.0V185.9M615.5 144.9V146.3M617.5 145.5V151.3M619.5 148.1V149.0M625.5 137.4V139.5M626.5 139.1V145.5M627.5 145.1V155.6M629.5 149.2V150.1M633.5 141.8V143.9M634.5 143.4V145.1M635.5 145.2V147.6M636.5 147.1V151.1M637.5 151.5V155.3M638.5 154.9V155.8M640.5 154.2V157.0M641.5 157.5V159.1M642.5 158.8V162.1M643.5 161.7V163.9M644.5 163.7V170.3M645.5 170.1V174.1M646.5 173.5V176.3M650.5 167.0V167.9M655.5 161.4V162.3M656.5 162.5V166.3M658.5 166.1V167.0M659.5 167.1V169.3M661.5 165.2V166.9M662.5 167.0V168.1M664.5 165.7V167.4M668.5 152.3V153.5M672.5 148.4V149.5M673.5 149.3V151.3M674.5 150.9V155.6M675.5 156.1V157.0M676.5 157.1V158.7M677.5 158.5V161.0M684.5 143.0V152.9M685.5 153.4V164.0M690.5 151.1V153.7M691.5 153.9V156.8M692.5 157.1V157.9M693.5 157.8V160.2M697.5 157.9V163.0M698.5 162.6V167.4M703.5 160.8V161.7M705.5 160.0V161.7M706.5 161.1V164.5M707.5 164.0V171.0M711.5 163.1V166.4M713.5 163.3V166.4M715.5 164.4V166.6M716.5 166.5V167.4M718.5 163.8V169.0M719.5 169.3V170.9M720.5 171.1V173.3M728.5 133.8V136.6M730.5 133.5V139.3M731.5 139.2V145.0M732.5 144.6V150.1M733.5 150.6V152.6M737.5 133.1V134.0M738.5 133.4V137.0M739.5 137.1V140.9M741.5 140.3V141.7M743.5 140.7V142.9M744.5 143.4V146.4M746.5 140.9V145.7M747.5 145.8V147.2M748.5 146.7V153.8M753.5 142.9V144.7M756.5 139.6V141.8M758.5 141.0V141.8M759.5 141.4V145.4M762.5 141.3V142.2M764.5 141.2V142.0M766.5 137.1V138.1M768.5 135.3V136.2M770.5 132.5V134.1M771.5 133.8V138.2M776.5 126.5V131.9M777.5 132.4V133.3M778.5 133.2V135.2M779.5 134.8V139.2M780.5 139.7V142.4M781.5 142.2V147.3M787.5 132.4V135.1M788.5 134.8V138.1M795.5 120.7V127.6M799.5 115.9V116.8M800.5 116.5V118.6M803.5 110.8V111.9M804.5 111.6V114.1M806.5 113.2V124.0M807.5 124.0V126.5M808.5 126.6V127.9M809.5 128.1V129.5M816.5 106.1V113.4M817.5 113.7V115.9M818.5 115.5V122.6M819.5 122.1V130.8M820.5 131.4V136.5M823.5 134.9V139.9M825.5 129.9V144.7M827.5 144.2V152.0M829.5 151.4V153.1M830.5 153.3V157.8M832.5 155.9V157.9M834.5 152.9V157.3M835.5 157.8V158.7M837.5 157.8V160.2M838.5 160.6V161.5M842.5 150.0V152.0M843.5 151.6V156.7M844.5 156.7V157.6M845.5 157.8V158.7M849.5 152.9V155.9M850.5 155.5V162.1M162.5 309V329" stroke="#eb4d5c" stroke-width="1.15" fill="none"/><path d="M916.8 123L981 176.4M977.7 165.9L981 176.4L969.3 175.4" stroke="#fff" stroke-width="2" fill="none" stroke-linecap="round" stroke-linejoin="round"/><path d="M981 175.5L1006 73.5M998.6 82.3L1006 73.5L1010.2 84.9" stroke="#fff" stroke-width="2" fill="none" stroke-linecap="round" stroke-linejoin="round"/><path d="M1009.6 74.9L1204 239" stroke="#fff" stroke-width="2" fill="none"/><circle cx="215.6" cy="143.4" r="12" stroke="#48e048" stroke-width="1.15" fill="none"/><text x="215.6" y="151.9" font-size="21" text-anchor="middle" fill="#48e048" stroke="#48e048" stroke-width="0.25">A</text><circle cx="389.55" cy="283.5" r="12" stroke="#48e048" stroke-width="1.15" fill="none"/><text x="389.55" y="292.0" font-size="21" text-anchor="middle" fill="#48e048" stroke="#48e048" stroke-width="0.25">B</text><circle cx="1005.6" cy="38.4" r="12" stroke="#48e048" stroke-width="1.15" fill="none"/><text x="1005.6" y="46.9" font-size="21" text-anchor="middle" fill="#48e048" stroke="#48e048" stroke-width="0.25">C</text><text x="424.2" y="157.7" font-size="20" text-anchor="middle" fill="#48e048" stroke="#48e048" stroke-width="0.35">(1)</text><text x="585.2" y="262.9" font-size="20" text-anchor="middle" fill="#48e048" stroke="#48e048" stroke-width="0.35">(2)</text><text x="816.2" y="94.1" font-size="20" text-anchor="middle" fill="#48e048" stroke="#48e048" stroke-width="0.35">(3)</text><text x="981.2" y="203.9" font-size="20" text-anchor="middle" fill="#48e048" stroke="#48e048" stroke-width="0.35">(4)</text><text x="1006.4" y="61.5" font-size="20" text-anchor="middle" fill="#48e048" stroke="#48e048" stroke-width="0.35">(5)</text><path d="M42.5 421.50V417.88M43.5 421.50V417.88M44.5 421.50V416.51M45.5 421.50V416.51M46.5 421.50V413.52M47.5 421.50V413.52M48.5 421.50V409.51M49.5 421.50V409.51M50.5 421.50V406.85M51.5 421.50V406.85M54.5 421.50V406.10M55.5 421.50V406.10M56.5 421.50V404.92M57.5 421.50V404.92M58.5 421.50V400.46M59.5 421.50V400.46M60.5 421.50V392.44M61.5 421.50V392.44M62.5 421.50V386.06M63.5 421.50V386.06M64.5 421.50V382.84M65.5 421.50V382.84M66.5 421.50V381.70M67.5 421.50V381.70M102.5 421.50V417.92M103.5 421.50V417.92M104.5 421.50V417.89M105.5 421.50V417.89M111.5 421.50V420.82M112.5 421.50V415.84M113.5 421.50V415.84M114.5 421.50V414.77M115.5 421.50V414.77M131.5 421.50V420.90M132.5 421.50V420.64M133.5 421.50V420.64M136.5 421.50V420.90M139.5 421.50V420.90M140.5 421.50V419.07M141.5 421.50V419.07M142.5 421.50V416.90M143.5 421.50V416.90M144.5 421.50V415.32M145.5 421.50V415.32M146.5 421.50V414.22M147.5 421.50V414.22M150.5 421.50V415.07M151.5 421.50V415.07M155.5 421.50V418.88M156.5 421.50V409.04M157.5 421.50V409.04M158.5 421.50V403.70M159.5 421.50V403.70M160.5 421.50V402.25M161.5 421.50V402.25M164.5 421.50V386.25M165.5 421.50V386.25M166.5 421.50V371.43M167.5 421.50V371.43M168.5 421.50V368.55M169.5 421.50V368.55M180.5 421.50V389.81M181.5 421.50V389.81M184.5 421.50V384.58M185.5 421.50V384.58M186.5 421.50V379.49M187.5 421.50V379.49M194.5 421.50V381.57M195.5 421.50V381.57M196.5 421.50V379.62M197.5 421.50V379.62M208.5 421.50V411.37M209.5 421.50V411.37M210.5 421.50V401.42M211.5 421.50V401.42M212.5 421.50V399.20M213.5 421.50V399.20M216.5 421.50V398.34M217.5 421.50V398.34M238.5 421.50V416.32M239.5 421.50V416.32M240.5 421.50V415.97M241.5 421.50V415.97M261.5 421.50V419.40M262.5 421.50V406.09M263.5 421.50V406.09M264.5 421.50V399.10M265.5 421.50V399.10M270.5 421.50V401.55M271.5 421.50V401.55M272.5 421.50V394.39M273.5 421.50V394.39M274.5 421.50V390.20M275.5 421.50V390.20M282.5 421.50V420.70M283.5 421.50V420.70M294.5 421.50V414.70M295.5 421.50V414.70M296.5 421.50V409.77M297.5 421.50V409.77M298.5 421.50V407.31M299.5 421.50V407.31M312.5 421.50V420.89M313.5 421.50V420.89M336.5 421.50V416.96M337.5 421.50V416.96M338.5 421.50V415.68M339.5 421.50V415.68M340.5 421.50V415.60M341.5 421.50V415.60M346.5 421.50V419.79M347.5 421.50V419.79M367.5 421.50V418.61M368.5 421.50V412.12M369.5 421.50V412.12M393.5 421.50V413.76M394.5 421.50V394.83M395.5 421.50V394.83M396.5 421.50V393.17M397.5 421.50V393.17M402.5 421.50V389.57M403.5 421.50V389.57M404.5 421.50V385.60M405.5 421.50V385.60M420.5 421.50V402.51M421.5 421.50V402.51M422.5 421.50V398.57M423.5 421.50V398.57M424.5 421.50V398.22M425.5 421.50V398.22M426.5 421.50V397.55M427.5 421.50V397.55M459.5 421.50V420.04M460.5 421.50V419.73M461.5 421.50V419.73M480.5 421.50V409.59M481.5 421.50V409.59M482.5 421.50V406.55M483.5 421.50V406.55M490.5 421.50V420.39M491.5 421.50V420.39M492.5 421.50V415.77M493.5 421.50V415.77M494.5 421.50V407.00M495.5 421.50V407.00M496.5 421.50V397.23M497.5 421.50V397.23M498.5 421.50V385.98M499.5 421.50V385.98M500.5 421.50V382.62M501.5 421.50V382.62M521.5 421.50V419.55M522.5 421.50V415.33M523.5 421.50V415.33M524.5 421.50V414.16M525.5 421.50V414.16M538.5 421.50V417.26M539.5 421.50V417.26M540.5 421.50V413.40M541.5 421.50V413.40M546.5 421.50V415.86M547.5 421.50V415.86M548.5 421.50V412.60M549.5 421.50V412.60M550.5 421.50V412.19M551.5 421.50V412.19M585.5 421.50V420.81M586.5 421.50V414.34M587.5 421.50V414.34M588.5 421.50V408.69M589.5 421.50V408.69M590.5 421.50V404.23M591.5 421.50V404.23M592.5 421.50V403.03M593.5 421.50V403.03M600.5 421.50V417.78M601.5 421.50V417.78M602.5 421.50V416.99M603.5 421.50V416.99M604.5 421.50V415.42M605.5 421.50V415.42M606.5 421.50V402.33M607.5 421.50V402.33M608.5 421.50V386.52M609.5 421.50V386.52M610.5 421.50V381.52M611.5 421.50V381.52M614.5 421.50V367.44M615.5 421.50V367.44M616.5 421.50V359.88M617.5 421.50V359.88M653.5 421.50V420.90M654.5 421.50V417.81M655.5 421.50V417.81M656.5 421.50V417.49M657.5 421.50V417.49M663.5 421.50V420.53M664.5 421.50V418.10M665.5 421.50V418.10M666.5 421.50V412.76M667.5 421.50V412.76M668.5 421.50V408.59M669.5 421.50V408.59M672.5 421.50V407.09M673.5 421.50V407.09M674.5 421.50V406.41M675.5 421.50V406.41M680.5 421.50V412.36M681.5 421.50V412.36M682.5 421.50V405.61M683.5 421.50V405.61M684.5 421.50V404.99M685.5 421.50V404.99M722.5 421.50V415.40M723.5 421.50V415.40M724.5 421.50V396.41M725.5 421.50V396.41M726.5 421.50V387.05M727.5 421.50V387.05M735.5 421.50V418.05M736.5 421.50V409.85M737.5 421.50V409.85M738.5 421.50V406.19M739.5 421.50V406.19M753.5 421.50V419.92M754.5 421.50V415.80M755.5 421.50V415.80M756.5 421.50V413.47M757.5 421.50V413.47M764.5 421.50V417.12M765.5 421.50V417.12M766.5 421.50V416.57M767.5 421.50V416.57M768.5 421.50V413.72M769.5 421.50V413.72M770.5 421.50V412.67M771.5 421.50V412.67M772.5 421.50V410.84M773.5 421.50V410.84M774.5 421.50V409.10M775.5 421.50V409.10M776.5 421.50V408.66M777.5 421.50V408.66M786.5 421.50V418.43M787.5 421.50V418.43M788.5 421.50V414.11M789.5 421.50V414.11M790.5 421.50V412.62M791.5 421.50V412.62M792.5 421.50V404.62M793.5 421.50V404.62M794.5 421.50V400.82M795.5 421.50V400.82M802.5 421.50V402.95M803.5 421.50V402.95M804.5 421.50V402.07M805.5 421.50V402.07M812.5 421.50V411.52M813.5 421.50V411.52M814.5 421.50V401.74M815.5 421.50V401.74M816.5 421.50V401.07M817.5 421.50V401.07M841.5 421.50V417.76M842.5 421.50V416.40M843.5 421.50V416.40M844.5 421.50V416.26M845.5 421.50V416.26" stroke="#78ec74" stroke-width="1.15" fill="none"/><path d="M0.5 421.50V403.67M1.5 421.50V403.67M2.5 421.50V410.08M3.5 421.50V410.08M52.5 421.50V407.50M53.5 421.50V407.50M68.5 421.50V391.61M69.5 421.50V391.61M70.5 421.50V407.02M71.5 421.50V407.02M72.5 421.50V419.00M106.5 421.50V420.58M116.5 421.50V420.00M134.5 421.50V420.90M135.5 421.50V420.90M148.5 421.50V415.09M149.5 421.50V415.09M152.5 421.50V418.41M153.5 421.50V418.41M162.5 421.50V403.55M163.5 421.50V403.55M170.5 421.50V370.52M171.5 421.50V370.52M172.5 421.50V381.49M173.5 421.50V381.49M174.5 421.50V382.82M175.5 421.50V382.82M176.5 421.50V390.15M177.5 421.50V390.15M178.5 421.50V391.38M179.5 421.50V391.38M182.5 421.50V392.39M183.5 421.50V392.39M188.5 421.50V380.40M189.5 421.50V380.40M190.5 421.50V388.32M191.5 421.50V388.32M192.5 421.50V402.60M193.5 421.50V402.60M198.5 421.50V380.26M199.5 421.50V380.26M200.5 421.50V382.97M201.5 421.50V382.97M202.5 421.50V387.72M203.5 421.50V387.72M204.5 421.50V397.85M205.5 421.50V397.85M206.5 421.50V416.22M214.5 421.50V399.57M215.5 421.50V399.57M218.5 421.50V401.08M219.5 421.50V401.08M220.5 421.50V409.92M221.5 421.50V409.92M222.5 421.50V420.90M242.5 421.50V416.54M243.5 421.50V416.54M266.5 421.50V400.62M267.5 421.50V400.62M268.5 421.50V404.50M269.5 421.50V404.50M276.5 421.50V391.11M277.5 421.50V391.11M278.5 421.50V398.07M279.5 421.50V398.07M280.5 421.50V418.35M284.5 421.50V420.90M300.5 421.50V407.70M301.5 421.50V407.70M302.5 421.50V410.65M303.5 421.50V410.65M304.5 421.50V414.18M305.5 421.50V414.18M306.5 421.50V420.90M342.5 421.50V418.23M343.5 421.50V418.23M348.5 421.50V419.82M349.5 421.50V419.82M370.5 421.50V412.40M371.5 421.50V412.40M372.5 421.50V419.26M398.5 421.50V393.74M399.5 421.50V393.74M400.5 421.50V396.16M401.5 421.50V396.16M406.5 421.50V385.89M407.5 421.50V385.89M408.5 421.50V387.48M409.5 421.50V387.48M410.5 421.50V391.20M411.5 421.50V391.20M412.5 421.50V395.33M413.5 421.50V395.33M414.5 421.50V398.46M415.5 421.50V398.46M416.5 421.50V401.51M417.5 421.50V401.51M418.5 421.50V403.71M419.5 421.50V403.71M428.5 421.50V402.47M429.5 421.50V402.47M430.5 421.50V415.15M431.5 421.50V415.15M462.5 421.50V420.39M484.5 421.50V406.95M485.5 421.50V406.95M486.5 421.50V412.71M487.5 421.50V412.71M502.5 421.50V383.65M503.5 421.50V383.65M504.5 421.50V388.87M505.5 421.50V388.87M506.5 421.50V394.47M507.5 421.50V394.47M508.5 421.50V401.90M509.5 421.50V401.90M510.5 421.50V407.58M511.5 421.50V407.58M512.5 421.50V408.55M513.5 421.50V408.55M514.5 421.50V410.80M515.5 421.50V410.80M516.5 421.50V411.99M517.5 421.50V411.99M518.5 421.50V417.02M526.5 421.50V416.73M527.5 421.50V416.73M542.5 421.50V416.86M543.5 421.50V416.86M552.5 421.50V419.58M594.5 421.50V406.22M595.5 421.50V406.22M596.5 421.50V409.01M597.5 421.50V409.01M598.5 421.50V420.90M612.5 421.50V381.64M613.5 421.50V381.64M618.5 421.50V360.45M619.5 421.50V360.45M620.5 421.50V370.95M621.5 421.50V370.95M622.5 421.50V384.81M623.5 421.50V384.81M624.5 421.50V387.63M625.5 421.50V387.63M626.5 421.50V394.87M627.5 421.50V394.87M628.5 421.50V409.54M629.5 421.50V409.54M630.5 421.50V420.90M658.5 421.50V418.94M659.5 421.50V418.94M670.5 421.50V408.71M671.5 421.50V408.71M676.5 421.50V420.10M686.5 421.50V414.47M728.5 421.50V387.22M729.5 421.50V387.22M730.5 421.50V394.06M731.5 421.50V394.06M732.5 421.50V398.39M733.5 421.50V398.39M734.5 421.50V412.10M735.5 421.50V412.10M740.5 421.50V408.86M741.5 421.50V408.86M742.5 421.50V416.86M743.5 421.50V416.86M758.5 421.50V413.79M759.5 421.50V413.79M760.5 421.50V416.84M761.5 421.50V416.84M762.5 421.50V417.63M763.5 421.50V417.63M778.5 421.50V410.98M779.5 421.50V410.98M796.5 421.50V402.51M797.5 421.50V402.51M798.5 421.50V403.42M799.5 421.50V403.42M800.5 421.50V403.89M801.5 421.50V403.89M806.5 421.50V410.56M807.5 421.50V410.56M808.5 421.50V420.90M818.5 421.50V406.61M819.5 421.50V406.61M820.5 421.50V417.75" stroke="#448c3e" stroke-width="1.15" fill="none"/><path d="M5.5 421.50V428.78M6.5 421.50V444.79M7.5 421.50V444.79M12.5 421.50V452.73M13.5 421.50V452.73M14.5 421.50V456.40M15.5 421.50V456.40M16.5 421.50V456.55M17.5 421.50V456.55M22.5 421.50V454.71M23.5 421.50V454.71M30.5 421.50V444.09M31.5 421.50V444.09M34.5 421.50V444.70M35.5 421.50V444.70M36.5 421.50V446.92M37.5 421.50V446.92M71.5 421.50V424.43M72.5 421.50V431.29M73.5 421.50V431.29M78.5 421.50V431.10M79.5 421.50V431.10M82.5 421.50V431.70M83.5 421.50V431.70M84.5 421.50V440.48M85.5 421.50V440.48M86.5 421.50V447.01M87.5 421.50V447.01M88.5 421.50V452.03M89.5 421.50V452.03M90.5 421.50V455.56M91.5 421.50V455.56M106.5 421.50V424.58M107.5 421.50V424.58M108.5 421.50V427.27M109.5 421.50V427.27M114.5 421.50V435.05M115.5 421.50V435.05M116.5 421.50V445.25M117.5 421.50V445.25M118.5 421.50V452.93M119.5 421.50V452.93M120.5 421.50V458.02M121.5 421.50V458.02M135.5 421.50V422.56M136.5 421.50V425.31M137.5 421.50V425.31M151.5 421.50V422.57M152.5 421.50V426.45M153.5 421.50V426.45M154.5 421.50V430.26M155.5 421.50V430.26M220.5 421.50V422.69M221.5 421.50V422.69M222.5 421.50V425.56M223.5 421.50V425.56M224.5 421.50V429.95M225.5 421.50V429.95M226.5 421.50V435.05M227.5 421.50V435.05M228.5 421.50V439.74M229.5 421.50V439.74M234.5 421.50V438.99M235.5 421.50V438.99M241.5 421.50V422.10M242.5 421.50V424.33M243.5 421.50V424.33M244.5 421.50V425.93M245.5 421.50V425.93M246.5 421.50V437.03M247.5 421.50V437.03M248.5 421.50V450.40M249.5 421.50V450.40M250.5 421.50V450.65M251.5 421.50V450.65M254.5 421.50V452.42M255.5 421.50V452.42M256.5 421.50V455.69M257.5 421.50V455.69M258.5 421.50V458.52M259.5 421.50V458.52M279.5 421.50V424.11M280.5 421.50V432.84M281.5 421.50V432.84M282.5 421.50V434.19M283.5 421.50V434.19M284.5 421.50V437.40M285.5 421.50V437.40M286.5 421.50V443.28M287.5 421.50V443.28M288.5 421.50V449.19M289.5 421.50V449.19M290.5 421.50V452.11M291.5 421.50V452.11M306.5 421.50V435.22M307.5 421.50V435.22M308.5 421.50V436.47M309.5 421.50V436.47M314.5 421.50V422.57M315.5 421.50V422.57M316.5 421.50V432.26M317.5 421.50V432.26M318.5 421.50V438.61M319.5 421.50V438.61M328.5 421.50V425.54M329.5 421.50V425.54M330.5 421.50V429.68M331.5 421.50V429.68M332.5 421.50V432.86M333.5 421.50V432.86M344.5 421.50V425.80M345.5 421.50V425.80M350.5 421.50V423.31M351.5 421.50V423.31M352.5 421.50V427.82M353.5 421.50V427.82M354.5 421.50V431.25M355.5 421.50V431.25M360.5 421.50V430.03M361.5 421.50V430.03M364.5 421.50V432.57M365.5 421.50V432.57M371.5 421.50V426.50M372.5 421.50V433.21M373.5 421.50V433.21M374.5 421.50V433.88M375.5 421.50V433.88M380.5 421.50V429.75M381.5 421.50V429.75M382.5 421.50V431.21M383.5 421.50V431.21M384.5 421.50V433.59M385.5 421.50V433.59M386.5 421.50V434.74M387.5 421.50V434.74M390.5 421.50V435.92M391.5 421.50V435.92M430.5 421.50V422.56M431.5 421.50V422.56M432.5 421.50V424.44M433.5 421.50V424.44M434.5 421.50V431.03M435.5 421.50V431.03M436.5 421.50V441.47M437.5 421.50V441.47M438.5 421.50V444.64M439.5 421.50V444.64M450.5 421.50V437.23M451.5 421.50V437.23M452.5 421.50V443.57M453.5 421.50V443.57M462.5 421.50V427.05M463.5 421.50V427.05M464.5 421.50V435.38M465.5 421.50V435.38M466.5 421.50V439.78M467.5 421.50V439.78M472.5 421.50V446.06M473.5 421.50V446.06M474.5 421.50V448.26M475.5 421.50V448.26M486.5 421.50V423.29M487.5 421.50V423.29M488.5 421.50V425.91M489.5 421.50V425.91M517.5 421.50V423.06M518.5 421.50V428.45M519.5 421.50V428.45M520.5 421.50V428.45M521.5 421.50V428.45M526.5 421.50V424.80M527.5 421.50V424.80M528.5 421.50V429.23M529.5 421.50V429.23M530.5 421.50V433.97M531.5 421.50V433.97M532.5 421.50V439.34M533.5 421.50V439.34M534.5 421.50V440.97M535.5 421.50V440.97M543.5 421.50V422.88M544.5 421.50V424.81M545.5 421.50V424.81M550.5 421.50V423.61M551.5 421.50V423.61M552.5 421.50V428.65M553.5 421.50V428.65M554.5 421.50V433.58M555.5 421.50V433.58M556.5 421.50V437.48M557.5 421.50V437.48M558.5 421.50V441.55M559.5 421.50V441.55M560.5 421.50V446.63M561.5 421.50V446.63M562.5 421.50V448.84M563.5 421.50V448.84M570.5 421.50V434.10M571.5 421.50V434.10M572.5 421.50V438.23M573.5 421.50V438.23M574.5 421.50V440.68M575.5 421.50V440.68M580.5 421.50V438.19M581.5 421.50V438.19M597.5 421.50V422.93M598.5 421.50V424.37M599.5 421.50V424.37M600.5 421.50V424.75M601.5 421.50V424.75M629.5 421.50V422.10M630.5 421.50V423.60M631.5 421.50V423.60M634.5 421.50V422.66M635.5 421.50V422.66M636.5 421.50V426.04M637.5 421.50V426.04M638.5 421.50V430.94M639.5 421.50V430.94M640.5 421.50V437.22M641.5 421.50V437.22M642.5 421.50V441.46M643.5 421.50V441.46M644.5 421.50V445.34M645.5 421.50V445.34M646.5 421.50V446.82M647.5 421.50V446.82M660.5 421.50V424.60M661.5 421.50V424.60M676.5 421.50V423.12M677.5 421.50V423.12M678.5 421.50V424.56M679.5 421.50V424.56M680.5 421.50V424.82M681.5 421.50V424.82M685.5 421.50V422.10M686.5 421.50V428.37M687.5 421.50V428.37M688.5 421.50V428.98M689.5 421.50V428.98M694.5 421.50V426.78M695.5 421.50V426.78M696.5 421.50V426.94M697.5 421.50V426.94M700.5 421.50V427.03M701.5 421.50V427.03M704.5 421.50V426.68M705.5 421.50V426.68M706.5 421.50V428.09M707.5 421.50V428.09M708.5 421.50V430.21M709.5 421.50V430.21M714.5 421.50V427.86M715.5 421.50V427.86M716.5 421.50V429.40M717.5 421.50V429.40M722.5 421.50V425.76M723.5 421.50V425.76M734.5 421.50V425.15M735.5 421.50V425.15M736.5 421.50V426.32M737.5 421.50V426.32M743.5 421.50V422.56M744.5 421.50V424.75M745.5 421.50V424.75M746.5 421.50V427.87M747.5 421.50V427.87M748.5 421.50V433.06M749.5 421.50V433.06M780.5 421.50V432.44M781.5 421.50V432.44M782.5 421.50V441.39M783.5 421.50V441.39M784.5 421.50V441.82M785.5 421.50V441.82M807.5 421.50V425.94M808.5 421.50V436.71M809.5 421.50V436.71M810.5 421.50V437.02M811.5 421.50V437.02M818.5 421.50V434.58M819.5 421.50V434.58M820.5 421.50V448.12M821.5 421.50V448.12M822.5 421.50V448.42M823.5 421.50V448.42M824.5 421.50V449.61M825.5 421.50V449.61M826.5 421.50V450.10M827.5 421.50V450.10M828.5 421.50V451.70M829.5 421.50V451.70M844.5 421.50V426.22M845.5 421.50V426.22M846.5 421.50V428.62M847.5 421.50V428.62" stroke="#f06458" stroke-width="1.15" fill="none"/><path d="M8.5 421.50V444.71M9.5 421.50V444.71M10.5 421.50V438.82M11.5 421.50V438.82M18.5 421.50V453.93M19.5 421.50V453.93M20.5 421.50V452.76M21.5 421.50V452.76M24.5 421.50V453.96M25.5 421.50V453.96M26.5 421.50V448.32M27.5 421.50V448.32M28.5 421.50V443.60M29.5 421.50V443.60M32.5 421.50V443.18M33.5 421.50V443.18M38.5 421.50V445.56M39.5 421.50V445.56M40.5 421.50V432.64M41.5 421.50V432.64M42.5 421.50V425.02M43.5 421.50V425.02M74.5 421.50V431.04M75.5 421.50V431.04M76.5 421.50V430.66M77.5 421.50V430.66M80.5 421.50V430.66M81.5 421.50V430.66M92.5 421.50V455.03M93.5 421.50V455.03M94.5 421.50V449.90M95.5 421.50V449.90M96.5 421.50V445.67M97.5 421.50V445.67M98.5 421.50V444.76M99.5 421.50V444.76M100.5 421.50V442.67M101.5 421.50V442.67M102.5 421.50V432.75M103.5 421.50V432.75M104.5 421.50V424.55M110.5 421.50V425.17M111.5 421.50V425.17M112.5 421.50V422.10M122.5 421.50V455.31M123.5 421.50V455.31M124.5 421.50V447.11M125.5 421.50V447.11M126.5 421.50V437.31M127.5 421.50V437.31M128.5 421.50V431.64M129.5 421.50V431.64M130.5 421.50V426.72M131.5 421.50V426.72M132.5 421.50V422.28M138.5 421.50V424.45M139.5 421.50V424.45M140.5 421.50V422.47M156.5 421.50V423.82M230.5 421.50V438.99M231.5 421.50V438.99M232.5 421.50V438.36M233.5 421.50V438.36M236.5 421.50V438.30M237.5 421.50V438.30M238.5 421.50V428.46M239.5 421.50V428.46M252.5 421.50V450.38M253.5 421.50V450.38M260.5 421.50V451.97M261.5 421.50V451.97M262.5 421.50V432.58M263.5 421.50V432.58M292.5 421.50V444.84M293.5 421.50V444.84M294.5 421.50V432.80M295.5 421.50V432.80M296.5 421.50V424.50M310.5 421.50V430.26M311.5 421.50V430.26M312.5 421.50V422.50M320.5 421.50V438.01M321.5 421.50V438.01M322.5 421.50V436.99M323.5 421.50V436.99M324.5 421.50V428.93M325.5 421.50V428.93M326.5 421.50V423.87M327.5 421.50V423.87M334.5 421.50V430.93M335.5 421.50V430.93M336.5 421.50V424.05M337.5 421.50V424.05M346.5 421.50V425.16M347.5 421.50V425.16M356.5 421.50V430.00M357.5 421.50V430.00M358.5 421.50V429.27M359.5 421.50V429.27M362.5 421.50V429.46M363.5 421.50V429.46M366.5 421.50V431.05M367.5 421.50V431.05M376.5 421.50V430.34M377.5 421.50V430.34M378.5 421.50V428.94M379.5 421.50V428.94M388.5 421.50V433.78M389.5 421.50V433.78M392.5 421.50V434.82M393.5 421.50V434.82M394.5 421.50V422.10M440.5 421.50V444.09M441.5 421.50V444.09M442.5 421.50V436.97M443.5 421.50V436.97M444.5 421.50V429.56M445.5 421.50V429.56M446.5 421.50V425.05M447.5 421.50V425.05M448.5 421.50V424.24M449.5 421.50V424.24M454.5 421.50V443.36M455.5 421.50V443.36M456.5 421.50V441.57M457.5 421.50V441.57M458.5 421.50V432.63M459.5 421.50V432.63M460.5 421.50V422.10M468.5 421.50V438.47M469.5 421.50V438.47M470.5 421.50V437.67M471.5 421.50V437.67M476.5 421.50V444.35M477.5 421.50V444.35M478.5 421.50V436.55M479.5 421.50V436.55M480.5 421.50V427.15M481.5 421.50V427.15M490.5 421.50V424.69M491.5 421.50V424.69M522.5 421.50V422.10M536.5 421.50V436.60M537.5 421.50V436.60M538.5 421.50V425.85M539.5 421.50V425.85M546.5 421.50V424.02M547.5 421.50V424.02M564.5 421.50V443.97M565.5 421.50V443.97M566.5 421.50V435.24M567.5 421.50V435.24M568.5 421.50V430.90M569.5 421.50V430.90M576.5 421.50V438.93M577.5 421.50V438.93M578.5 421.50V436.69M579.5 421.50V436.69M582.5 421.50V434.27M583.5 421.50V434.27M584.5 421.50V425.82M585.5 421.50V425.82M632.5 421.50V423.00M648.5 421.50V443.98M649.5 421.50V443.98M650.5 421.50V435.76M651.5 421.50V435.76M652.5 421.50V427.97M653.5 421.50V427.97M654.5 421.50V422.10M662.5 421.50V424.40M663.5 421.50V424.40M690.5 421.50V427.30M691.5 421.50V427.30M692.5 421.50V426.43M693.5 421.50V426.43M698.5 421.50V425.14M699.5 421.50V425.14M702.5 421.50V425.19M703.5 421.50V425.19M710.5 421.50V428.41M711.5 421.50V428.41M712.5 421.50V422.10M718.5 421.50V427.23M719.5 421.50V427.23M720.5 421.50V423.88M721.5 421.50V423.88M724.5 421.50V423.75M750.5 421.50V432.27M751.5 421.50V432.27M752.5 421.50V427.25M753.5 421.50V427.25M754.5 421.50V422.10M786.5 421.50V432.09M787.5 421.50V432.09M788.5 421.50V422.42M812.5 421.50V426.40M813.5 421.50V426.40M830.5 421.50V451.57M831.5 421.50V451.57M832.5 421.50V451.46M833.5 421.50V451.46M834.5 421.50V447.66M835.5 421.50V447.66M836.5 421.50V439.24M837.5 421.50V439.24M838.5 421.50V433.87M839.5 421.50V433.87M840.5 421.50V428.73M841.5 421.50V428.73M848.5 421.50V427.04M849.5 421.50V427.04M850.5 421.50V423.31M851.5 421.50V423.31" stroke="#84322e" stroke-width="1.15" fill="none"/><path d="M1204.5 0V468" stroke="#2b2b2b" stroke-width="1"/><path d="M0 467.5H1205" stroke="#2b2b2b" stroke-width="1"/><rect x="0" y="350" width="1255" height="3" fill="#000"/><rect x="0" y="353" width="1255" height="3" fill="#101010"/><rect x="0" y="351" width="1255" height="1" fill="#fff"/><rect x="0" y="350.6" width="1255" height="1.7" fill="rgba(255,255,255,0.35)"/><path d="M0 421.5H852" stroke="#747474" stroke-width="1"/><path d="M1205 17.5H1208" stroke="#3c3c3c" stroke-width="1"/><text x="1211.8" y="21.5" font-size="10.9" font-weight="bold" fill="#c4c4c4">168.000</text><path d="M1205 47.5H1208" stroke="#3c3c3c" stroke-width="1"/><text x="1211.8" y="51.5" font-size="10.9" font-weight="bold" fill="#c4c4c4">164.000</text><path d="M1205 78.5H1208" stroke="#3c3c3c" stroke-width="1"/><text x="1211.8" y="82.5" font-size="10.9" font-weight="bold" fill="#c4c4c4">160.000</text><path d="M1205 108.5H1208" stroke="#3c3c3c" stroke-width="1"/><text x="1211.8" y="112.5" font-size="10.9" font-weight="bold" fill="#c4c4c4">156.000</text><path d="M1205 200.5H1208" stroke="#3c3c3c" stroke-width="1"/><text x="1211.8" y="204.5" font-size="10.9" font-weight="bold" fill="#c4c4c4">144.000</text><path d="M1205 230.5H1208" stroke="#3c3c3c" stroke-width="1"/><text x="1211.8" y="234.5" font-size="10.9" font-weight="bold" fill="#c4c4c4">140.000</text><path d="M1205 261.5H1208" stroke="#3c3c3c" stroke-width="1"/><text x="1211.8" y="265.5" font-size="10.9" font-weight="bold" fill="#c4c4c4">136.000</text><path d="M1205 291.5H1208" stroke="#3c3c3c" stroke-width="1"/><text x="1211.8" y="295.5" font-size="10.9" font-weight="bold" fill="#c4c4c4">132.000</text><path d="M1205 322.5H1208" stroke="#3c3c3c" stroke-width="1"/><text x="1211.8" y="326.5" font-size="10.9" font-weight="bold" fill="#c4c4c4">128.000</text><path d="M1205 384.5H1208" stroke="#3c3c3c" stroke-width="1"/><text x="1211" y="388.5" font-size="10.9" font-weight="bold" fill="#c4c4c4">1.0000</text><path d="M1205 421.5H1208" stroke="#3c3c3c" stroke-width="1"/><text x="1211" y="425.5" font-size="10.9" font-weight="bold" fill="#c4c4c4">0.0000</text><path d="M1205 458.5H1208" stroke="#3c3c3c" stroke-width="1"/><text x="1211" y="462.5" font-size="10.9" font-weight="bold" fill="#c4c4c4">-1.0000</text><rect x="1204" y="136" width="51" height="16" fill="#ff0000"/><path d="M1204.5 143.5H1207.5" stroke="#fff" stroke-width="1"/><text x="1211.6" y="147.9" font-size="11" font-weight="bold" fill="#fff">151.365</text><rect x="1204" y="154" width="49.5" height="16" fill="#e8505f"/><path d="M1204.5 161.5H1207.5" stroke="#fff" stroke-width="1"/><text x="1211.6" y="165.9" font-size="11" font-weight="bold" fill="#fff">149.114</text><rect x="1204" y="170" width="51" height="16" fill="#555555"/><path d="M1204.5 177.5H1207.5" stroke="#fff" stroke-width="1"/><text x="1211.6" y="181.9" font-size="11" font-weight="bold" fill="#fff">148.173</text><path d="M14.5 468V471" stroke="#2f2f2f" stroke-width="1"/><text x="14.0" y="482" font-size="11" font-weight="bold" text-anchor="middle" fill="#cacaca">Aug</text><path d="M107.5 468V471" stroke="#2f2f2f" stroke-width="1"/><text x="106.69999999999999" y="482" font-size="11" font-weight="bold" text-anchor="middle" fill="#cacaca">Oct</text><path d="M238.5 468V471" stroke="#2f2f2f" stroke-width="1"/><text x="237.9" y="482" font-size="11" font-weight="bold" text-anchor="middle" fill="#e6e6e6">2017</text><path d="M322.5 468V471" stroke="#2f2f2f" stroke-width="1"/><text x="321.90000000000003" y="482" font-size="11" font-weight="bold" text-anchor="middle" fill="#cacaca">Mar</text><path d="M411.5 468V471" stroke="#2f2f2f" stroke-width="1"/><text x="411.1" y="482" font-size="11" font-weight="bold" text-anchor="middle" fill="#cacaca">May</text><path d="M503.5 468V471" stroke="#2f2f2f" stroke-width="1"/><text x="502.70000000000005" y="482" font-size="11" font-weight="bold" text-anchor="middle" fill="#cacaca">Jul</text><path d="M594.5 468V471" stroke="#2f2f2f" stroke-width="1"/><text x="593.7" y="482" font-size="11" font-weight="bold" text-anchor="middle" fill="#cacaca">Sep</text><path d="M682.5 468V471" stroke="#2f2f2f" stroke-width="1"/><text x="682.4" y="482" font-size="11" font-weight="bold" text-anchor="middle" fill="#cacaca">Nov</text><path d="M768.5 468V471" stroke="#2f2f2f" stroke-width="1"/><text x="767.7" y="482" font-size="11" font-weight="bold" text-anchor="middle" fill="#e6e6e6">2018</text><path d="M854.5 468V471" stroke="#2f2f2f" stroke-width="1"/><text x="854.0" y="482" font-size="11" font-weight="bold" text-anchor="middle" fill="#cacaca">Mar</text><path d="M943.5 468V471" stroke="#2f2f2f" stroke-width="1"/><text x="943.2" y="482" font-size="11" font-weight="bold" text-anchor="middle" fill="#cacaca">May</text><path d="M1019.5 468V471" stroke="#2f2f2f" stroke-width="1"/><text x="1019.0" y="482" font-size="11" font-weight="bold" text-anchor="middle" fill="#cacaca">21</text><rect x="5.6" y="12.9" width="11.4" height="11.4" rx="2" fill="none" stroke="#8a8a8a" stroke-width="1"/><path d="M7.5 18.6H15.5" stroke="#9a9a9a" stroke-width="1"/><text x="23.8" y="24.6" font-size="14.3" fill="#d6d6d6" stroke="#d6d6d6" stroke-width="0.25">O</text><text x="36.6" y="24.6" font-size="14.3" fill="#e8485a" stroke="#e8485a" stroke-width="0.25">149.517</text><text x="97.2" y="24.6" font-size="14.3" fill="#d6d6d6" stroke="#d6d6d6" stroke-width="0.25">H</text><text x="109.3" y="24.6" font-size="14.3" fill="#e8485a" stroke="#e8485a" stroke-width="0.25">149.576</text><text x="170" y="24.6" font-size="14.3" fill="#d6d6d6" stroke="#d6d6d6" stroke-width="0.25">L</text><text x="180.3" y="24.6" font-size="14.3" fill="#e8485a" stroke="#e8485a" stroke-width="0.25">149.000</text><text x="241" y="24.6" font-size="14.3" fill="#d6d6d6" stroke="#d6d6d6" stroke-width="0.25">C</text><text x="252.6" y="24.6" font-size="14.3" fill="#e8485a" stroke="#e8485a" stroke-width="0.25">149.114</text><text x="5.3" y="371.3" font-size="12" fill="#e8574a">-0.0808</text><text x="55.3" y="371.3" font-size="12" fill="#8a8a8a">0.0000</text><text x="101" y="371.3" font-size="12" fill="#5fe85f">0.0000</text><text x="146.8" y="371.3" font-size="12" fill="#e8574a">0.0000</text><circle cx="560.2" cy="438.4" r="13.6" fill="rgba(245,245,245,0.42)"/><path d="M561.7 433.9L557.7 438.4L561.7 442.9" stroke="#474747" stroke-width="1.6" fill="none"/><circle cx="594" cy="438.4" r="13.6" fill="rgba(245,245,245,0.42)"/><path d="M589.5 438.4H598.5" stroke="#474747" stroke-width="1.8" fill="none"/><circle cx="627.6" cy="438.4" r="13.6" fill="rgba(245,245,245,0.42)"/><path d="M631.8000000000001 439.9A4.6 4.6 0 1 1 629.8000000000001 434.4" stroke="#474747" stroke-width="1.3" fill="none"/><path d="M627.8000000000001 432.09999999999997L632.2 434.79999999999995L628.2 437.2" stroke="#474747" stroke-width="1.1" fill="none"/><circle cx="662" cy="438.4" r="13.6" fill="rgba(245,245,245,0.42)"/><path d="M657.5 438.4H666.5M662 433.9V442.9" stroke="#474747" stroke-width="1.8" fill="none"/><circle cx="696" cy="438.4" r="13.6" fill="rgba(245,245,245,0.42)"/><path d="M694.5 433.9L698.5 438.4L694.5 442.9" stroke="#474747" stroke-width="1.6" fill="none"/></svg></body></html>
